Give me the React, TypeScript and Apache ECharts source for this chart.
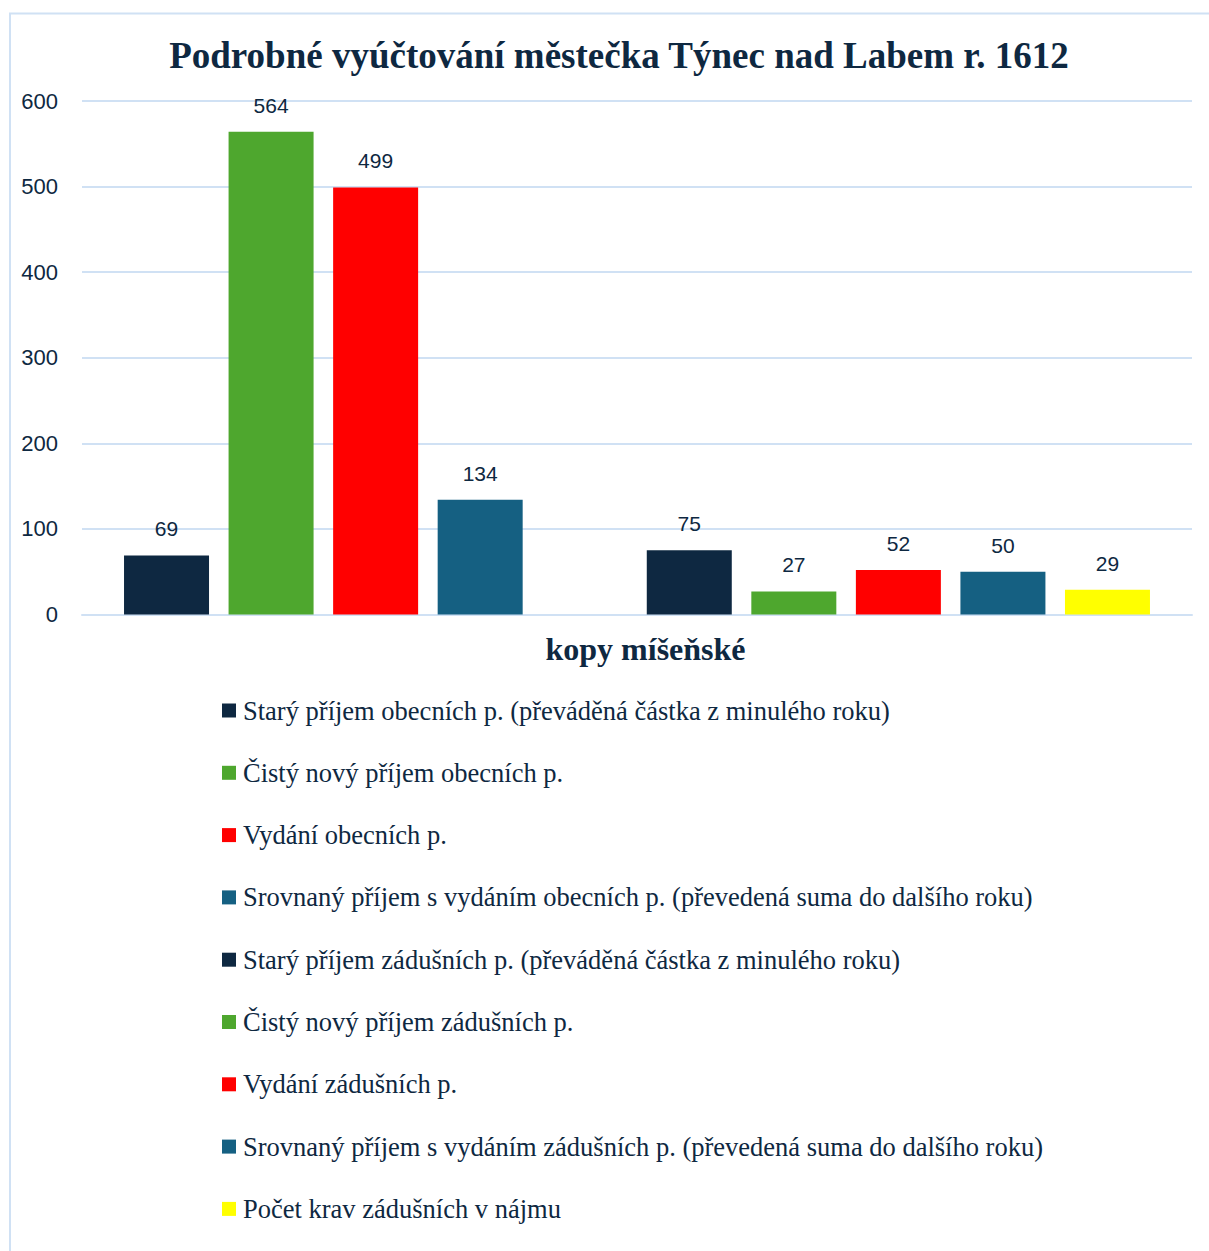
import React, { useEffect, useRef } from "react";
import * as echarts from "echarts";

const categories = ["kopy míšeňské"];
const seriesNames = [
  "Starý příjem obecních p. (převáděná částka z minulého roku)",
  "Čistý nový příjem obecních p.",
  "Vydání obecních p.",
  "Srovnaný příjem s vydáním obecních p. (převedená suma do dalšího roku)",
  "Starý příjem zádušních p. (převáděná částka z minulého roku)",
  "Čistý nový příjem zádušních p.",
  "Vydání zádušních p.",
  "Srovnaný příjem s vydáním zádušních p. (převedená suma do dalšího roku)",
  "Počet krav zádušních v nájmu",
];
const seriesValues = [69, 564, 499, 134, 75, 27, 52, 50, 29];
const seriesColors = [
  "#0e2841",
  "#4ea72e",
  "#ff0000",
  "#156082",
  "#0e2841",
  "#4ea72e",
  "#ff0000",
  "#156082",
  "#ffff00",
];
const yTicks = { min: 0, max: 600, interval: 100 };

const TEXT = "#0e2841";
const GRID = "#d0e1f4";
const SANS = "'Liberation Sans', Arial, sans-serif";
const SERIF = "'Liberation Serif', 'Times New Roman', serif";

export default function App() {
  const ref = useRef<HTMLDivElement>(null);
  useEffect(() => {
    if (!ref.current) return;
    const chart = echarts.init(ref.current, undefined, { renderer: "svg" });

    const mkSeries = (i: number) => ({
      name: seriesNames[i],
      type: "bar",
      barWidth: 85,
      barGap: "23%",
      itemStyle: { color: seriesColors[i] },
      label: {
        show: true,
        position: "top",
        distance: 16,
        color: TEXT,
        fontFamily: SANS,
        fontSize: 21,
      },
      data: [seriesValues[i]],
    });

    const series: any[] = [];
    for (let i = 0; i < 4; i++) series.push(mkSeries(i));
    series.push({
      name: "__gap__",
      type: "bar",
      barWidth: 85,
      barGap: "23%",
      data: ["-"],
      itemStyle: { color: "transparent" },
    });
    for (let i = 4; i < 9; i++) series.push(mkSeries(i));

    chart.setOption({
      animation: false,
      backgroundColor: "#ffffff",
      graphic: [
        {
          type: "rect",
          shape: { x: 10, y: 13.5, width: 1230, height: 1270 },
          style: { fill: "none", stroke: GRID, lineWidth: 2 },
          silent: true,
        },
      ],
      title: {
        text: "Podrobné vyúčtování městečka Týnec nad Labem r. 1612",
        left: 614,
        textAlign: "center",
        top: 32,
        textStyle: {
          fontFamily: SERIF,
          fontWeight: "bold",
          fontSize: 37,
          color: TEXT,
        },
      },
      legend: {
        data: seriesNames,
        orient: "vertical",
        left: 222,
        top: 697,
        padding: 0,
        icon: "rect",
        itemWidth: 14,
        itemHeight: 14,
        itemGap: 35.3,
        textStyle: {
          fontFamily: SERIF,
          fontSize: 26.5,
          lineHeight: 26,
          color: TEXT,
          padding: [0, 0, 0, 2],
        },
        selectedMode: false,
      },
      grid: {
        left: 82,
        right: 17,
        top: 101,
        height: 513.5,
        containLabel: false,
      },
      xAxis: {
        type: "category",
        data: categories,
        axisLine: { show: true, lineStyle: { color: GRID, width: 2 } },
        axisTick: { show: false },
        axisLabel: {
          margin: 18,
          fontFamily: SERIF,
          fontWeight: "bold",
          fontSize: 32,
          color: TEXT,
          padding: [0, 0, 0, 17],
        },
      },
      yAxis: {
        type: "value",
        min: yTicks.min,
        max: yTicks.max,
        interval: yTicks.interval,
        axisLine: { show: false },
        axisTick: { show: false },
        splitLine: { lineStyle: { color: GRID, width: 2 } },
        axisLabel: {
          margin: 24,
          fontFamily: SANS,
          fontSize: 22,
          color: TEXT,
        },
      },
      series,
    });
    return () => chart.dispose();
  }, []);

  return (
    <div
      ref={ref}
      style={{ position: "absolute", left: 0, top: 0, width: 1209, height: 1251 }}
    />
  );
}
